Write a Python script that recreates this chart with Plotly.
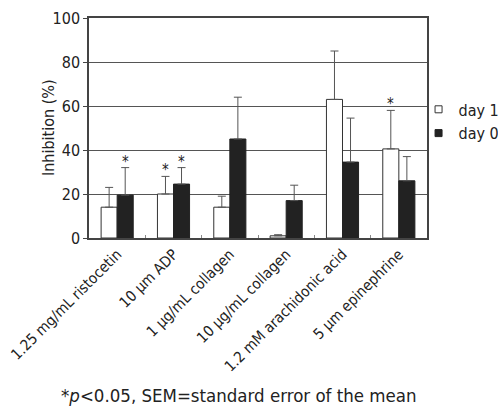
import plotly.graph_objects as go

categories = ["1.25 mg/mL ristocetin", "10 μm ADP", "1 μg/mL collagen",
              "10 μg/mL collagen", "1.2 mM arachidonic acid", "5 μm epinephrine"]
day1 = [14, 20, 14, 1, 63, 40.5]
day1_err = [9, 8, 5, 0.5, 22, 17.5]
day0 = [19.5, 24.5, 45, 17, 34.5, 26]
day0_err = [12.5, 7.5, 19, 7, 20, 11]
day1_star = [False, True, False, False, False, True]
day0_star = [True, True, False, False, False, False]

FONT = "DejaVu Sans Condensed, Liberation Sans Narrow, sans-serif"

fig = go.Figure()
fig.add_bar(name="day 1", x=categories, y=day1, showlegend=False,
            marker=dict(color="white", line=dict(color="#333", width=1)),
            error_y=dict(type="data", array=day1_err, arrayminus=[0]*6, symmetric=False,
                         color="#555", thickness=1, width=4))
fig.add_bar(name="day 0", x=categories, y=day0, showlegend=False,
            marker=dict(color="#222", line=dict(color="#222", width=1)),
            error_y=dict(type="data", array=day0_err, arrayminus=[0]*6, symmetric=False,
                         color="#555", thickness=1, width=4))
# legend entries with small square symbols
fig.add_scatter(name="day 1", x=[None], y=[None], mode="markers",
                marker=dict(symbol="square", size=7, color="white",
                            line=dict(color="#333", width=1)))
fig.add_scatter(name="day 0", x=[None], y=[None], mode="markers",
                marker=dict(symbol="square", size=7, color="#222",
                            line=dict(color="#222", width=1)))

annotations = []
for i, c in enumerate(categories):
    if day1_star[i]:
        annotations.append(dict(x=c, y=day1[i] + day1_err[i], xref="x", yref="y",
                                text="*", showarrow=False, xshift=-8, yshift=6,
                                font=dict(size=15, color="#222", family=FONT)))
    if day0_star[i]:
        annotations.append(dict(x=c, y=day0[i] + day0_err[i], xref="x", yref="y",
                                text="*", showarrow=False, xshift=8, yshift=6,
                                font=dict(size=15, color="#222", family=FONT)))
annotations.append(dict(x=0.445, y=-0.715, xref="paper", yref="paper", yanchor="middle",
                        xanchor="center", showarrow=False,
                        text="*<i>p</i><0.05, SEM=standard error of the mean",
                        font=dict(size=18.5, color="#222", family=FONT)))
annotations.append(dict(x=-0.121, y=0.5, xref="paper", yref="paper", xanchor="center",
                        yanchor="middle", textangle=-90, showarrow=False,
                        text="Inhibition (%)", font=dict(size=16, color="#222", family=FONT)))

fig.update_layout(
    width=498, height=410,
    margin=dict(l=89, r=71, t=18, b=172, autoexpand=False),
    paper_bgcolor="white", plot_bgcolor="white",
    barmode="group", bargap=0.43, bargroupgap=0,
    font=dict(family=FONT, size=16, color="#222"),
    legend=dict(x=0.975, xanchor="left", y=0.53, yanchor="middle",
                font=dict(size=16, family=FONT), traceorder="normal",
                itemwidth=30, tracegroupgap=0, bgcolor="rgba(0,0,0,0)"),
    annotations=annotations,
    showlegend=True,
)
fig.update_yaxes(range=[0, 100], dtick=20, showgrid=True, gridcolor="#555", gridwidth=1.2,
                 showline=True, linecolor="#444", linewidth=1.5, mirror=True,
                 ticks="outside", ticklen=4, tickcolor="#444", automargin=False,
                 zeroline=False, tickfont=dict(size=16))
fig.update_xaxes(showline=True, linecolor="#444", linewidth=1.5, mirror=True,
                 tickangle=-45, ticks="inside", ticklen=3, tickcolor="#888",
                 tickson="boundaries", tickfont=dict(size=15), automargin=False)

fig.write_html("out.html", config={"displayModeBar": False},
               post_script="document.body.style.margin='0';document.body.style.overflow='hidden';")
